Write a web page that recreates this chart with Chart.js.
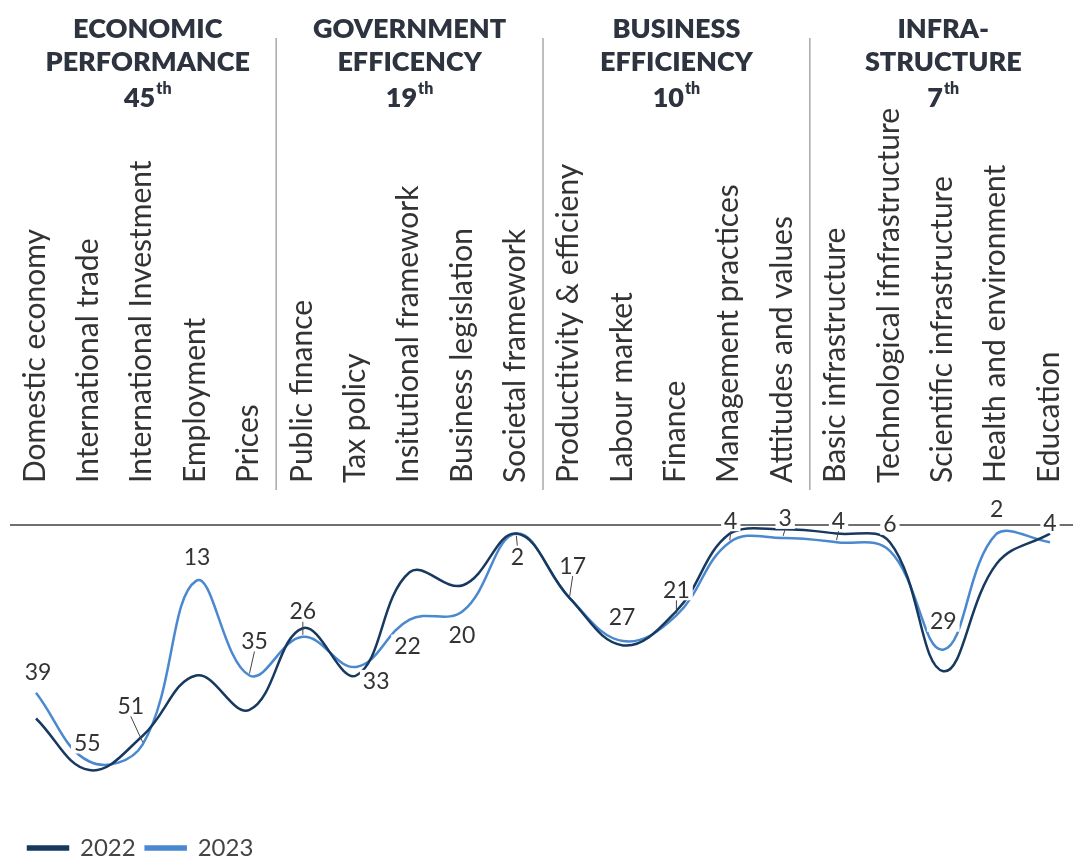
<!DOCTYPE html>
<html>
<head>
<meta charset="utf-8">
<script src="https://cdn.jsdelivr.net/npm/chart.js@4.4.1/dist/chart.umd.min.js"></script>
<style>
  html, body { margin: 0; background: #fff; }
  #wrap { width: 1075px; height: 864px; position: relative; }
</style>
</head>
<body>
<div id="wrap"><canvas id="chart"></canvas></div>
<script>
// sub-factor names, as printed on the chart
const categories = [
  'Domestic economy', 'International trade', 'International Investment', 'Employment', 'Prices',
  'Public finance', 'Tax policy', 'Insitutional framework', 'Business legislation', 'Societal framework',
  'Productitvity & efficieny', 'Labour market', 'Finance', 'Management practices', 'Attitudes and values',
  'Basic infrastructure', 'Technological ifnfrastructure', 'Scientific infrastructure', 'Health and environment', 'Education'
];

// factor headers (5 sub-factors each)
const groupNames = [['ECONOMIC', 'PERFORMANCE'], ['GOVERNMENT', 'EFFICENCY'], ['BUSINESS', 'EFFICIENCY'], ['INFRA-', 'STRUCTURE']];
const groupRanks = ['45', '19', '10', '7'];
const groupSize = 5;

// rankings (1 = best)
const rank2022 = [45, 57, 49, 35, 43, 24, 35, 11, 14, 2, 17, 28, 20, 2, 1, 2, 4, 34, 9, 2];
const rank2023 = [39, 55, 51, 13, 35, 26, 33, 22, 20, 2, 17, 27, 21, 4, 3, 4, 6, 29, 2, 4];

// where each 2023 label sits relative to its point: [dx, dy, leader line?]
const labelPlace = [
  [2, -21, false], [-2, -19, false], [-12, -39, true], [1, -24, false], [5, -35, true],
  [0, -26, true], [20, 14, false], [-2, 26, false], [-1, 24, false], [1, 23, true],
  [3, -33, true], [-1, -25, false], [0, -26, true], [1, -22, true], [2, -20, true],
  [2, -22, true], [0, -27, false], [0, -29, false], [0, -25, false], [0, -20, false]
];

const DARK = '#17395f';
const LIGHT = '#4a88cf';
const TOP_OF_PLOT = 525;

const decorations = {
  id: 'decorations',
  beforeDatasetsDraw(chart) {
    const ctx = chart.ctx;
    const y0 = chart.scales.y.getPixelForValue(0);
    ctx.save();
    ctx.strokeStyle = '#6f6f6f';
    ctx.lineWidth = 2;
    ctx.beginPath();
    ctx.moveTo(10, y0);
    ctx.lineTo(1073, y0);
    ctx.stroke();
    ctx.restore();
  },
  afterDraw(chart) {
    const ctx = chart.ctx;
    const x = chart.scales.x;
    ctx.save();
    // separators between factors
    ctx.strokeStyle = '#a8a8a8';
    ctx.lineWidth = 1.5;
    for (let g = 1; g < groupNames.length; g++) {
      const sx = (x.getPixelForValue(g * groupSize - 1) + x.getPixelForValue(g * groupSize)) / 2;
      ctx.beginPath();
      ctx.moveTo(sx, 38);
      ctx.lineTo(sx, 490);
      ctx.stroke();
    }
    // factor headers
    ctx.fillStyle = '#2e3340';
    ctx.textBaseline = 'alphabetic';
    groupNames.forEach((lines, g) => {
      let sum = 0;
      for (let k = 0; k < groupSize; k++) sum += x.getPixelForValue(g * groupSize + k);
      const cx = sum / groupSize + (g === 0 ? 5 : 0);
      ctx.font = '800 27px Lato';
      ctx.textAlign = 'center';
      lines.forEach((t, j) => ctx.fillText(t, cx, 38 + j * 33));
      const num = groupRanks[g];
      const wn = ctx.measureText(num).width;
      ctx.font = '800 16px Lato';
      const ws = ctx.measureText('th').width;
      const left = cx - (wn + ws + 1) / 2;
      ctx.textAlign = 'left';
      ctx.font = '800 27px Lato';
      ctx.fillText(num, left, 107);
      ctx.font = '800 16px Lato';
      ctx.fillText('th', left + wn + 1, 94);
    });
    ctx.restore();
  }
};

const valueLabels = {
  id: 'valueLabels',
  afterDatasetsDraw(chart) {
    const ctx = chart.ctx;
    const meta = chart.getDatasetMeta(1);
    ctx.save();
    ctx.font = '23px Lato';
    ctx.textAlign = 'center';
    ctx.textBaseline = 'middle';
    meta.data.forEach((pt, i) => {
      const [dx, dy, lead] = labelPlace[i];
      const lx = pt.x + dx, ly = pt.y + dy;
      const txt = String(rank2023[i]);
      const w = ctx.measureText(txt).width;
      ctx.fillStyle = '#fff';
      ctx.fillRect(lx - w / 2 - 3, ly - 11, w + 6, 22);
      ctx.fillStyle = '#333';
      ctx.fillText(txt, lx, ly + 1);
      if (lead) {
        const s = dy < 0 ? 1 : -1;
        ctx.strokeStyle = '#444';
        ctx.lineWidth = 1;
        ctx.beginPath();
        ctx.moveTo(lx, ly + 11 * s);
        ctx.lineTo(pt.x, pt.y - 2 * s);
        ctx.stroke();
      }
    });
    ctx.restore();
  }
};

new Chart(document.getElementById('chart'), {
  type: 'line',
  data: {
    labels: categories,
    datasets: [
      { label: '2022', data: rank2022, borderColor: DARK, backgroundColor: DARK, borderWidth: 2.5,
        tension: 0.4, pointRadius: 0, clip: false },
      { label: '2023', data: rank2023, borderColor: LIGHT, backgroundColor: LIGHT, borderWidth: 2.5,
        tension: 0.4, pointRadius: 0, clip: false }
    ]
  },
  options: {
    responsive: true,
    maintainAspectRatio: false,
    animation: false,
    layout: { padding: { top: 0, left: 18, right: 25, bottom: -6 } },
    scales: {
      x: {
        position: 'top',
        offset: false,
        grid: { display: false, drawTicks: false },
        border: { display: false },
        ticks: {
          autoSkip: false, minRotation: 90, maxRotation: 90, padding: 42, labelOffset: 35,
          color: '#333', font: { family: 'Lato', size: 30, lineHeight: 1.2 }
        },
        afterFit(scale) {
          scale.height = TOP_OF_PLOT;
          scale.paddingLeft = 0;
          scale.paddingRight = 0;
        }
      },
      y: {
        reverse: true, min: 0, max: 70,
        grid: { display: false },
        border: { display: false },
        ticks: { display: false },
        afterFit(scale) { scale.width = 18; }
      }
    },
    plugins: {
      legend: {
        position: 'bottom', align: 'start',
        labels: { boxWidth: 40, boxHeight: 3, padding: 10, color: '#444', font: { family: 'Lato', size: 24 } }
      },
      tooltip: { enabled: false }
    }
  },
  plugins: [decorations, valueLabels]
});
</script>
</body>
</html>
